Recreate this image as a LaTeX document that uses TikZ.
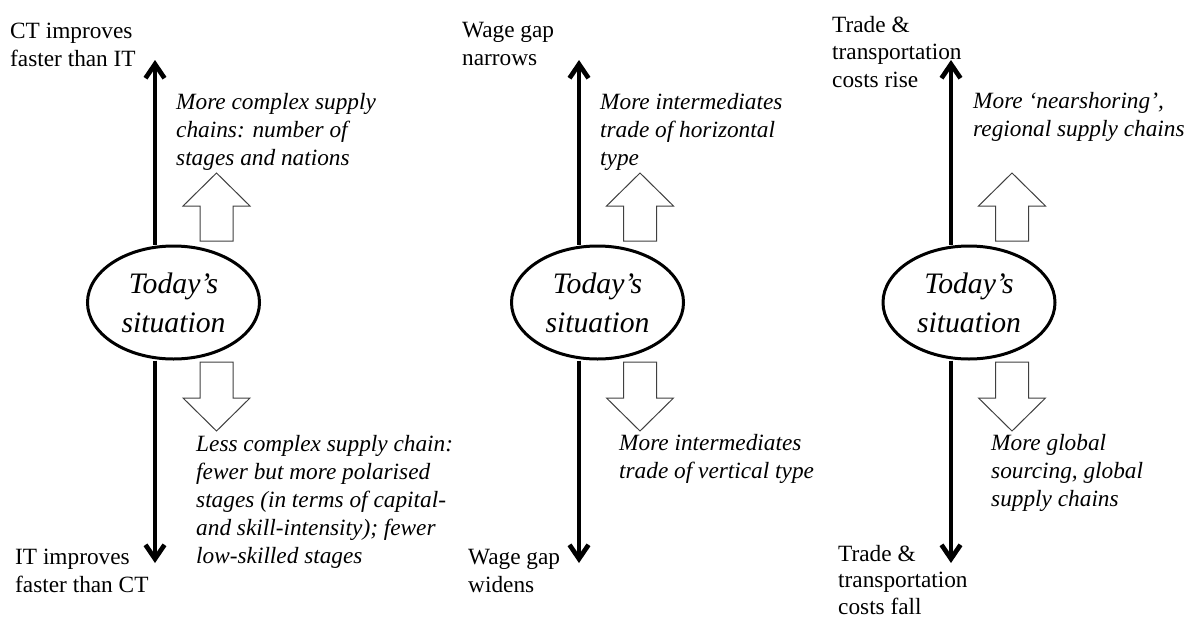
\documentclass[tikz,border=0pt]{standalone}
\usepackage{fontspec}
\setmainfont{Liberation Serif}
\usetikzlibrary{arrows.meta,shapes.geometric}
\tikzset{
  lab/.style={font=\fontsize{23.3}{27.5}\selectfont, align=left, anchor=north west, inner sep=0pt},
  ital/.style={font=\fontsize{23.3}{28}\selectfont\itshape, align=left, anchor=north west, inner sep=0pt},
  sit/.style={ellipse, draw, line width=3pt, minimum width=172pt, minimum height=113pt, inner sep=0pt, align=center, font=\fontsize{29.7}{39}\selectfont\itshape},
  axis/.style={line width=4.7pt, -{Straight Barb[length=14pt,width=19pt]}},
  block/.style={draw=black!75, line width=1pt, fill=white, line join=miter}
}
\newcommand{\hollowup}[1]{\draw[block] (#1-16.5,241) -- (#1-16.5,206) -- (#1-33.5,206) -- (#1,173) -- (#1+33.5,206) -- (#1+16.5,206) -- (#1+16.5,241) -- cycle;}
\newcommand{\hollowdown}[1]{\draw[block] (#1-16.5,362) -- (#1-16.5,398) -- (#1-33.5,398) -- (#1,431) -- (#1+33.5,398) -- (#1+16.5,398) -- (#1+16.5,362) -- cycle;}
\begin{document}
\begin{tikzpicture}[x=1pt,y=-1pt]
\useasboundingbox (0,0) rectangle (1186,619);

% ---------- Panel 1 ----------
\node[sit] (e1) at (173.5,302.5) {Today’s\\situation};
\coordinate (t1) at (155,60);
\coordinate (b1) at (155,563);
\draw[axis] (e1.north -| t1) -- (t1);
\draw[axis] (e1.south -| b1) -- (b1);
\hollowup{216.5}
\hollowdown{216.5}
\node[lab] (l1t) at (10,23) {CT improves\\faster than IT};
\node[lab] (l1b) at (15,549) {IT improves\\faster than CT};
\node[ital] (i1t) at (176,93) {More complex supply\\chains: number of\\stages and nations};
\node[ital] (i1b) at (196,435) {Less complex supply chain:\\fewer but more polarised\\stages (in terms of capital-\\and skill-intensity); fewer\\low-skilled stages};

% ---------- Panel 2 ----------
\node[sit] (e2) at (597.5,302.5) {Today’s\\situation};
\coordinate (t2) at (579,60);
\coordinate (b2) at (579,563);
\draw[axis] (e2.north -| t2) -- (t2);
\draw[axis] (e2.south -| b2) -- (b2);
\hollowup{640}
\hollowdown{640}
\node[lab] (l2t) at (462,22.5) {Wage gap\\narrows};
\node[lab] (l2b) at (468,549.5) {Wage gap\\widens};
\node[ital] (i2t) at (600,93) {More intermediates\\trade of horizontal\\type};
\node[ital] (i2b) at (619,434) {More intermediates\\trade of vertical type};

% ---------- Panel 3 ----------
\node[sit] (e3) at (969,302.5) {Today’s\\situation};
\coordinate (t3) at (951,60);
\coordinate (b3) at (951,563);
\draw[axis] (e3.north -| t3) -- (t3);
\draw[axis] (e3.south -| b3) -- (b3);
\hollowup{1012}
\hollowdown{1012}
\node[lab] (l3t) at (832,16) {Trade \&\\transportation\\costs rise};
\node[lab, font=\fontsize{23.3}{26.5}\selectfont] (l3b) at (838,545) {Trade \&\\transportation\\costs fall};
\node[ital] (i3t) at (973,92) {More ‘nearshoring’,\\regional supply chains};
\node[ital] (i3b) at (991,434) {More global\\sourcing, global\\supply chains};
\end{tikzpicture}
\end{document}
